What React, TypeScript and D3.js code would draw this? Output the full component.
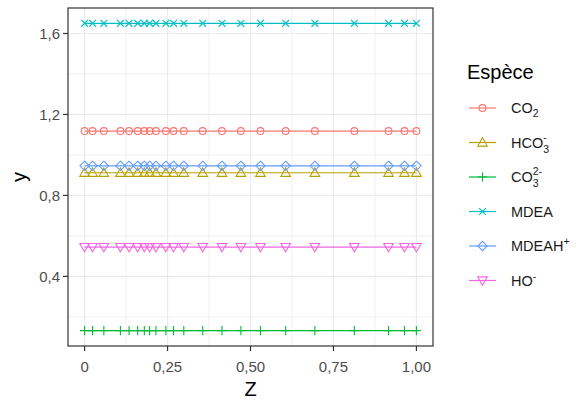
import React from "react";
import * as d3 from "d3";

const zValues = [0, 0.024, 0.058, 0.108, 0.134, 0.16, 0.18, 0.196, 0.215, 0.245, 0.268, 0.299, 0.356, 0.414, 0.471, 0.53, 0.606, 0.694, 0.813, 0.916, 0.964, 1.0];
const speciesNames = ["CO2", "HCO3-", "CO3 2-", "MDEA", "MDEAH+", "HO-"];
const speciesLevels = [1.118, 0.912, 0.132, 1.65, 0.946, 0.545];
const speciesColors = ["#F8766D", "#B79F00", "#00BA38", "#00BFC4", "#619CFF", "#F564E3"];
const speciesShapes = ["circle", "triangle", "plus", "cross", "diamond", "triangleDown"];
const xTicks = [0, 0.25, 0.5, 0.75, 1.0];
const xTickLabels = ["0", "0,25", "0,50", "0,75", "1,00"];
const yTicks = [0.4, 0.8, 1.2, 1.6];
const yTickLabels = ["0,4", "0,8", "1,2", "1,6"];
const xMinor = [0.125, 0.375, 0.625, 0.875];
const yMinor = [0.2, 0.6, 1.0, 1.4];

const W = 581, H = 403;
const P = { l: 68, r: 433, t: 8, b: 346 };
const FONT = "'Liberation Sans', Arial, sans-serif";

function Marker({ shape, x, y, color }: { shape: string; x: number; y: number; color: string }) {
  const sw = 1.1;
  if (shape === "circle") return <circle cx={x} cy={y} r={3.4} fill="none" stroke={color} strokeWidth={sw} />;
  if (shape === "triangle") {
    const s = 4.8;
    return <path d={`M${x},${y - s}L${x + s},${y + s * 0.75}L${x - s},${y + s * 0.75}Z`} fill="none" stroke={color} strokeWidth={sw} />;
  }
  if (shape === "triangleDown") {
    const s = 4.8;
    return <path d={`M${x},${y + s}L${x + s},${y - s * 0.75}L${x - s},${y - s * 0.75}Z`} fill="none" stroke={color} strokeWidth={sw} />;
  }
  if (shape === "plus") {
    const s = 4.6;
    return <path d={`M${x - s},${y}L${x + s},${y}M${x},${y - s}L${x},${y + s}`} stroke={color} strokeWidth={sw} />;
  }
  if (shape === "cross") {
    const s = 3.4;
    return <path d={`M${x - s},${y - s}L${x + s},${y + s}M${x - s},${y + s}L${x + s},${y - s}`} stroke={color} strokeWidth={sw} />;
  }
  const s = 4.7;
  return <path d={`M${x},${y - s}L${x + s},${y}L${x},${y + s}L${x - s},${y}Z`} fill="none" stroke={color} strokeWidth={sw} />;
}

function Label({ name, x, y }: { name: string; x: number; y: number }) {
  const fs = 14.5;
  const small = 10.5;
  const common = { x, y, fontSize: fs, fontFamily: FONT, fill: "#1A1A1A" };
  if (name === "CO2")
    return <text {...common}>CO<tspan fontSize={small} dy={4}>2</tspan></text>;
  if (name === "HCO3-")
    return <text {...common}>HCO<tspan fontSize={small} dy={5}>3</tspan><tspan fontSize={small} dx={-5.8} dy={-12}>-</tspan></text>;
  if (name === "CO3 2-")
    return <text {...common}>CO<tspan fontSize={small} dy={5}>3</tspan><tspan fontSize={small} dx={-5.8} dy={-12}>2-</tspan></text>;
  if (name === "MDEAH+")
    return <text {...common}>MDEAH<tspan fontSize={small} dy={-6}>+</tspan></text>;
  if (name === "HO-")
    return <text {...common}>HO<tspan fontSize={small} dy={-6}>-</tspan></text>;
  return <text {...common}>{name}</text>;
}

export default function App() {
  const x = d3.scaleLinear().domain([-0.05, 1.05]).range([P.l, P.r]);
  const yMin = 0.132, yMax = 1.65, pad = (yMax - yMin) * 0.05;
  const y = d3.scaleLinear().domain([yMin - pad, yMax + pad]).range([P.b, P.t]);
  const line = d3.line<number>().x(d => x(d)).y(0);

  const legendY0 = 108, legendDy = 34.5;

  return (
    <svg width={W} height={H} style={{ position: "absolute", left: 0, top: 0, background: "#fff" }}>
      <rect x={0} y={0} width={W} height={H} fill="#fff" />
      {xMinor.map(v => <line key={"xm" + v} x1={x(v)} x2={x(v)} y1={P.t} y2={P.b} stroke="#EBEBEB" strokeWidth={0.7} />)}
      {yMinor.map(v => <line key={"ym" + v} y1={y(v)} y2={y(v)} x1={P.l} x2={P.r} stroke="#EBEBEB" strokeWidth={0.7} />)}
      {xTicks.map(v => <line key={"xM" + v} x1={x(v)} x2={x(v)} y1={P.t} y2={P.b} stroke="#EBEBEB" strokeWidth={1.2} />)}
      {yTicks.map(v => <line key={"yM" + v} y1={y(v)} y2={y(v)} x1={P.l} x2={P.r} stroke="#EBEBEB" strokeWidth={1.2} />)}
      {speciesNames.map((n, i) => (
        <g key={n}>
          <path d={line(zValues) || ""} transform={`translate(0,${y(speciesLevels[i])})`} stroke={speciesColors[i]} strokeWidth={1.2} fill="none" />
          {zValues.map((z, j) => <Marker key={j} shape={speciesShapes[i]} x={x(z)} y={y(speciesLevels[i])} color={speciesColors[i]} />)}
        </g>
      ))}
      <rect x={P.l} y={P.t} width={P.r - P.l} height={P.b - P.t} fill="none" stroke="#333333" strokeWidth={1.2} />
      {xTicks.map((v, i) => (
        <g key={"xt" + v}>
          <line x1={x(v)} x2={x(v)} y1={P.b} y2={P.b + 5} stroke="#333333" strokeWidth={1.2} />
          <text x={x(v)} y={372} textAnchor="middle" fontSize={15} fontFamily={FONT} fill="#4D4D4D">{xTickLabels[i]}</text>
        </g>
      ))}
      {yTicks.map((v, i) => (
        <g key={"yt" + v}>
          <line x1={P.l - 5} x2={P.l} y1={y(v)} y2={y(v)} stroke="#333333" strokeWidth={1.2} />
          <text x={P.l - 8} y={y(v) + 5.3} textAnchor="end" fontSize={15} fontFamily={FONT} fill="#4D4D4D">{yTickLabels[i]}</text>
        </g>
      ))}
      <text x={(P.l + P.r) / 2} y={396} textAnchor="middle" fontSize={20} fontFamily={FONT} fill="#000">Z</text>
      <text transform={`translate(26,${(P.t + P.b) / 2}) rotate(-90)`} textAnchor="middle" fontSize={20} fontFamily={FONT} fill="#000">y</text>
      <text x={467} y={79} fontSize={20} fontFamily={FONT} fill="#000">Espèce</text>
      {speciesNames.map((n, i) => {
        const ly = legendY0 + i * legendDy;
        return (
          <g key={"lg" + n}>
            <line x1={469} x2={496} y1={ly} y2={ly} stroke={speciesColors[i]} strokeWidth={1.2} />
            <Marker shape={speciesShapes[i]} x={482.5} y={ly} color={speciesColors[i]} />
            <Label name={n} x={511} y={ly + 5} />
          </g>
        );
      })}
    </svg>
  );
}
